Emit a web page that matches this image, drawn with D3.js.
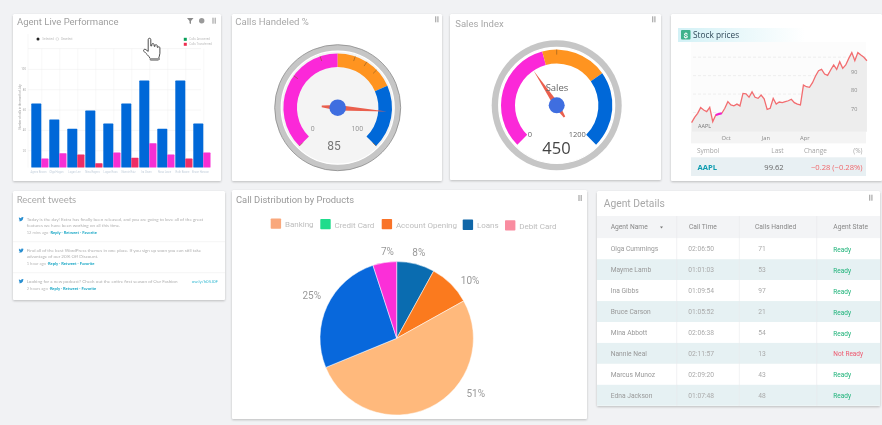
<!DOCTYPE html>
<html><head><meta charset="utf-8">
<script src="https://cdn.jsdelivr.net/npm/d3@7/dist/d3.min.js"></script>
<style>
html,body{margin:0;padding:0;background:#f1f2f4;overflow:hidden}
svg{display:block;filter:blur(.5px)}
text{font-family:Roboto,"Open Sans",sans-serif}
</style></head><body>
<svg id="c" width="882" height="425"></svg>
<script>
// ---- data ----
const agentsShort = ["Agnes Brown","Olga Hogan","Logan Lee","Nina Rogers","Logan Ross","Nannie Ruiz","Ira Owen","Rosa Lowe","Ruth Boone","Bruce Hanson"];
const callsOffered = [65.9,50.2,41,59,46.2,65.9,88.5,41,88.5,46.2];
const callsHandledBars = [11.8,17,15.7,7.2,17.7,12.5,26.9,15.7,11.8,17.7];
const handledBelow = [0,0,1,1,0,1,0,0,1,0];
const barTicks = [20,40,60,80,100];

const stockPrices = [64.2,67.1,69.3,72.4,71.1,70.2,72.5,64.8,68.4,68.9,69.3,72,75.6,73.8,73.3,74.3,73.3,80.1,79.8,78,80.9,78,77.4,79.2,77.1,71.4,72,77.4,74.3,75.4,75.1,75.6,76.1,76.9,75.1,74.3,73.8,84.6,83.7,83.4,85.9,89.5,92.4,93.1,90.6,89.9,92.8,95.5,93.1,97.3,93.7,95.5,99.1,102.2,97.8,102.2,100.9,99.7,97.8];
const stockHeader = ["Symbol","Last","Change","(%)"];
const stockRow = ["AAPL","99.62","−0.28 (−0.28%)"];
const stockMonths = ["Oct","Jan","Apr"];
const stockYTicks = [70,80,90,100];

const pieNames = ["Loans","Account Opening","Banking","Credit Card","Debit Card"];
const pieShares = [8,8.9,51.9,26.2,5];
const pieLabels = ["8%","10%","51%","25%","7%"];
const legendNames = ["Banking","Credit Card","Account Opening","Loans","Debit Card"];

const tableHead = ["Agent Name","Call Time","Calls Handled","Agent State"];
const tableNames = ["Olga Cummings","Mayme Lamb","Ina Gibbs","Bruce Carson","Mina Abbott","Nannie Neal","Marcus Munoz","Edna Jackson"];
const tableTimes = ["02:06:50","01:01:03","01:09:54","01:05:52","02:06:38","02:11:57","02:09:20","01:07:48"];
const tableCalls = [71,53,97,21,54,13,43,48];
const tableStates = ["Ready","Ready","Ready","Ready","Ready","Not Ready","Ready","Ready"];

const tweetLines = [
 ["Today is the day! Extra has finally been released, and you are going to love all of the great","features we have been working on all this time."],
 ["Find all of the best WordPress themes in one place. If you sign up soon you can still take","advantage of our 20% Off Discount."],
 ["Looking for a new podcast? Check out the entire first season of Our Fashion"]];
const tweetAges = ["12 mins ago","1 hour ago","2 hours ago"];

// ---- helpers ----
const svg = d3.select("#c");
const defs = svg.append("defs");
const sh = defs.append("filter").attr("id","sh").attr("x","-5%").attr("y","-5%").attr("width","110%").attr("height","112%");
sh.append("feDropShadow").attr("dx",0).attr("dy",1).attr("stdDeviation",1.2).attr("flood-color","#000").attr("flood-opacity",.22);
const gr = defs.append("linearGradient").attr("id","band");
gr.append("stop").attr("offset",0).attr("stop-color","#d3f1f6");
gr.append("stop").attr("offset",1).attr("stop-color","#ffffff");

function card(x,y,w,h){svg.append("rect").attr("x",x).attr("y",y).attr("width",w).attr("height",h).attr("fill","#fff").attr("rx",1.5).attr("filter","url(#sh)");}
function text(s,x,y,size,fill,o={}){
  const t=svg.append("text").attr("x",x).attr("y",y).attr("font-size",size).attr("fill",fill).text(s);
  if(o.anchor)t.attr("text-anchor",o.anchor);
  if(o.weight)t.attr("font-weight",o.weight);
  if(o.family)t.style("font-family",o.family);
  return t;
}
function pause(x,y){[-1.6,.6].forEach(d=>svg.append("rect").attr("x",x+d).attr("y",y-3).attr("width",1.2).attr("height",6).attr("fill","#a8a8a8"));}

card(13,14,208,167);card(232,14,210,167);card(450,14,211,166);card(671,14,211,167);
card(13,191,212,109);card(232,190,355,229);card(597,191,283,215);

// ---- bar chart ----
text("Agent Live Performance",17,25.2,9.5,"#a0a0a0");
svg.append("path").attr("d","M187 18h6.5l-2.5 3v3l-1.5-.8v-2.2z").attr("fill","#8b8b8b");
svg.append("circle").attr("cx",201.7).attr("cy",20.7).attr("r",2.7).attr("fill","#9a9a9a");
pause(214,20.7);

const bx = d3.scaleBand().domain(agentsShort).range([29.5,209.5]);
const by = d3.scaleLinear().domain([3,100]).range([167.5,68.9]);
const gb = svg.append("g");
gb.selectAll("line.v").data(agentsShort).join("line").attr("x1",d=>bx(d)+12.3).attr("x2",d=>bx(d)+12.3)
  .attr("y1",by(120)).attr("y2",by(3)).attr("stroke","#f0f0f0").attr("stroke-width",.5);
svg.append("line").attr("x1",28).attr("x2",201).attr("y1",by(120)).attr("y2",by(120)).attr("stroke","#ececec").attr("stroke-width",.5);
svg.append("line").attr("x1",28).attr("x2",28).attr("y1",34).attr("y2",167.5).attr("stroke","#ededed").attr("stroke-width",.5);
const ay = svg.append("g").attr("transform","translate(28,0)").call(d3.axisLeft(by).tickValues(barTicks).tickSize(-173).tickPadding(2));
ay.select(".domain").remove();
ay.selectAll("line").attr("stroke","#ececec").attr("stroke-width",.5);
ay.selectAll("text").attr("font-size",2.8).attr("fill","#aaa");
const ax = svg.append("g").attr("transform","translate(0,167.5)").call(d3.axisBottom(bx).tickSize(0).tickPadding(4));
ax.select(".domain").remove();
ax.selectAll("text").attr("font-size",2.7).attr("fill","#c3cfdb");
svg.append("g").selectAll("rect").data(callsOffered).join("rect")
  .attr("x",(d,i)=>bx(agentsShort[i])+1.8).attr("width",10).attr("y",d=>by(d)).attr("height",d=>by(3)-by(d)).attr("fill","#0068d8").attr("rx",.6);
svg.append("g").selectAll("rect").data(callsHandledBars).join("rect")
  .attr("x",(d,i)=>bx(agentsShort[i])+11.8).attr("width",7.2).attr("y",d=>by(d)).attr("height",d=>by(3)-by(d))
  .attr("fill",(d,i)=>handledBelow[i]?"#ee2d66":"#f72fd4").attr("rx",.6);
text("Number of calls in the month of July",0,0,2.8,"#999",{anchor:"middle"}).attr("transform","translate(21,107) rotate(-90)");
svg.append("circle").attr("cx",38).attr("cy",39).attr("r",1.5).attr("fill","#222");
text("Selected",42.3,40.1,3,"#c0c0c0");
svg.append("circle").attr("cx",57.3).attr("cy",39).attr("r",1.4).attr("fill","none").attr("stroke","#bbb").attr("stroke-width",.4);
text("Deselect",61,40.1,3,"#c0c0c0");
svg.append("rect").attr("x",183.8).attr("y",37.8).attr("width",3).attr("height",3).attr("fill","#0aa05a");
svg.append("rect").attr("x",183.8).attr("y",42.8).attr("width",3).attr("height",3).attr("fill","#ee2d50");
text("Calls Answered",189.3,40.4,3,"#c0c0c0");
text("Calls Transferred",189.3,45.4,3,"#c0c0c0");

// hand cursor
svg.append("path").attr("transform","translate(143,38)")
 .attr("d","M5.2 1.6c0-1.8 2.6-1.8 2.6 0v6.4l1-.2V6.6c0-1.4 2.2-1.4 2.3 0v1.6l.9.2V7.6c0-1.3 2.1-1.2 2.2.1v1.5l.7.3c0-1.2 1.9-1 2 .3v5.5c0 2.2-1 3.6-1.4 5.4v1.3H7.3v-1.4C5.6 17.6 3.5 16 .9 13.3c-1-1.2.4-2.7 1.9-1.7l2.4 1.8z")
 .attr("fill","#fff").attr("stroke","#3a3a3a").attr("stroke-width",.9).attr("stroke-linejoin","round");
svg.append("path").attr("transform","translate(143,38)").attr("d","M7.3 21h9.6").attr("stroke","#9a9a9a").attr("stroke-width",2);

// ---- gauges ----
const arcG = d3.arc();
function gauge(o){
  const g = svg.append("g").attr("transform",`translate(${o.cx},${o.cy})`);
  const a = d3.scaleLinear().domain([0,o.max]).range([-135*Math.PI/180,135*Math.PI/180]);
  g.append("circle").attr("r",o.r1).attr("fill",o.ring).attr("stroke",o.edge).attr("stroke-width",o.edge==="none"?0:.8);
  g.append("circle").attr("r",o.r2).attr("fill",o.face).attr("stroke","#fff").attr("stroke-width",1.2);
  o.bands.forEach(b=>g.append("path").attr("fill",b.c).attr("d",arcG({innerRadius:o.a0,outerRadius:o.a1,startAngle:a(b.from),endAngle:a(b.to)})));
  o.ticks.forEach(t=>{const th=a(t)-Math.PI/2;g.append("line").attr("x1",Math.cos(th)*(o.a1-5)).attr("y1",Math.sin(th)*(o.a1-5)).attr("x2",Math.cos(th)*o.a1).attr("y2",Math.sin(th)*o.a1).attr("stroke","#8a5a20").attr("stroke-width",.6);});
  const th=a(o.value), L=o.len, T=o.tail, W=o.hw, ux=Math.sin(th), uy=-Math.cos(th), px=-uy, py=ux;
  const pts=[[ux*L,uy*L],[px*W,py*W],[-ux*T+px*.9,-uy*T+py*.9],[-ux*T-px*.9,-uy*T-py*.9],[-px*W,-py*W]];
  g.append("path").attr("d",d3.line()(pts)+"Z").attr("fill","#ea5f4d");
  g.append("circle").attr("r",o.hub).attr("fill","#3f6ee0");
  return g;
}
text("Calls Handeled %",235.3,25.2,9.6,"#a8a8a8");pause(436.7,19.3);
const g1 = gauge({cx:337.7,cy:107.7,max:100,value:85,r1:63,r2:56.5,a0:40.7,a1:54.3,ring:"#c6c6c6",edge:"#8a8a8a",face:"#f4f4f4",len:49,tail:16,hw:2.8,hub:8.3,
  bands:[{from:0,to:50,c:"#fb28d8"},{from:50,to:74.5,c:"#ff9420"},{from:74.5,to:100,c:"#0068d8"}],ticks:[0,30,43,57,62,67,100]});
text("0",312.7,130.7,7,"#999",{anchor:"middle"});
text("100",357.3,130.7,7,"#999",{anchor:"middle"});
text("85",334,150,12,"#777",{anchor:"middle"});

text("Sales Index",455.3,27,9.5,"#a8a8a8");pause(653.7,19.3);
const g2 = gauge({cx:556.7,cy:105.3,max:1200,value:450,r1:65,r2:58,a0:41.7,a1:55.7,ring:"#c6c6c6",edge:"none",face:"#fff",len:41.5,tail:14,hw:2.8,hub:8,
  bands:[{from:0,to:533,c:"#fb28d8"},{from:533,to:844,c:"#ff9420"},{from:844,to:1200,c:"#0068d8"}],ticks:[600]});
text("Sales",557,91,9.5,"#666",{anchor:"middle",family:"'Open Sans'"});
text("0",530,137,7.5,"#666",{anchor:"middle",family:"'Open Sans'"});
text("1200",577.3,137,7.5,"#666",{anchor:"middle",family:"'Open Sans'"});
text("450",556.5,154,16.5,"#444",{anchor:"middle",family:"'Open Sans'"});

// ---- stock ----
svg.append("rect").attr("x",678).attr("y",28).attr("width",127).attr("height",14).attr("fill","url(#band)");
svg.append("rect").attr("x",681).attr("y",30).attr("width",9.5).attr("height",9.5).attr("rx",1).attr("fill","#3fb28c");
text("$",685.7,38,8,"#fff",{anchor:"middle",weight:700});
text("Stock prices",693,38,8.3,"#2f4858",{family:"'Open Sans'"});
const stockStart = new Date(2014,6,14);
const sDates = stockPrices.map((d,i)=>d3.timeDay.offset(stockStart,7*i));
const tx = d3.scaleTime().domain([new Date(2014,9,1),new Date(2015,3,1)]).range([725.7,804.3]);
const ty = d3.scaleLinear().domain([70,100]).range([112,56.7]);
const sl = 691, sr = 866, st = 42, sb = 131.7;
svg.append("rect").attr("x",sl).attr("y",st).attr("width",sr-sl).attr("height",101.3).attr("fill","#fcfcfc");
svg.append("rect").attr("x",sl).attr("y",sb).attr("width",sr-sl).attr("height",11.6).attr("fill","#f4f4f4");
const yS = svg.append("g").attr("transform",`translate(${sr},0)`).call(d3.axisLeft(ty).tickValues(stockYTicks).tickSize(175));
yS.select(".domain").remove();
yS.selectAll("line").attr("stroke","#e6e6e6").attr("stroke-width",.6).attr("stroke-dasharray","3 2");
yS.selectAll("text").remove();
svg.append("path").datum(stockPrices).attr("fill","#ededed")
  .attr("d",d3.area().x((d,i)=>tx(sDates[i])).y0(sb).y1(d=>ty(d)));
svg.append("path").datum(stockPrices).attr("fill","none").attr("stroke","#f26d70").attr("stroke-width",1.3)
  .attr("d",d3.line().x((d,i)=>tx(sDates[i])).y(d=>ty(d)));
const hiIdx=[8,9,10];
svg.append("path").datum(hiIdx).attr("fill","none").attr("stroke","#f01fcf").attr("stroke-width",2.2)
  .attr("d",d3.line().x(i=>tx(sDates[i])).y(i=>ty(stockPrices[i])));
stockYTicks.slice(0,3).forEach(v=>text(v,851,ty(v)-1.3,5.5,"#888",{family:"'Open Sans'"}));
const xS = svg.append("g").attr("transform",`translate(0,${sb})`).call(d3.axisBottom(tx).tickValues([new Date(2014,9,1),new Date(2015,0,1),new Date(2015,3,1)]).tickFormat((d,i)=>stockMonths[i]).tickSize(0).tickPadding(4));
xS.select(".domain").remove();
xS.selectAll("text").attr("font-size",5.8).attr("fill","#888").style("font-family","'Open Sans'");
text("AAPL",698,128,5.5,"#777",{family:"'Open Sans'"});
svg.append("rect").attr("x",691).attr("y",157.3).attr("width",175).attr("height",18.7).attr("fill","#e8f0f3");
text(stockHeader[0],697,153,6.5,"#a5a5a5",{family:"'Open Sans'"});
text(stockHeader[1],783.7,153,6.5,"#a5a5a5",{anchor:"end",family:"'Open Sans'"});
text(stockHeader[2],804,153,6.5,"#a5a5a5",{family:"'Open Sans'"});
text(stockHeader[3],862.5,153,6.5,"#a5a5a5",{anchor:"end",family:"'Open Sans'"});
text(stockRow[0],697.5,170,7.6,"#0e9cb0",{weight:700,family:"'Open Sans'"});
text(stockRow[1],783.7,170,7.6,"#666",{anchor:"end",family:"'Open Sans'"});
text(stockRow[2],862.5,170,7.6,"#f0686c",{anchor:"end",family:"'Open Sans'"});

// ---- tweets ----
text("Recent tweets",16.7,203,9.5,"#a9a9a9",{family:"Lato"});
const birdPath="M9.5 2.2c-.35.15-.7.25-1.1.3.4-.24.7-.6.84-1.05-.37.22-.78.38-1.22.47A1.9 1.9 0 0 0 4.8 3.66 5.4 5.4 0 0 1 .9 1.68a1.9 1.9 0 0 0 .59 2.54c-.3 0-.6-.1-.86-.24 0 .93.66 1.7 1.53 1.88-.28.08-.57.09-.86.03.25.77.96 1.3 1.78 1.32A3.8 3.8 0 0 1 .27 7.99a5.4 5.4 0 0 0 8.3-4.8c.37-.27.7-.6.93-.99z";
const tweetY=[[219.3,225.3,232.7],[250.7,256.7,264],[281.3,289]];
[241.7,272.7].forEach(y=>svg.append("line").attr("x1",13).attr("x2",225).attr("y1",y).attr("y2",y).attr("stroke","#efefef").attr("stroke-width",.6));
tweetLines.forEach((lines,i)=>{
  const ys=tweetY[i];
  svg.append("path").attr("d",birdPath).attr("fill","#2a8fd0").attr("transform",`translate(18.5,${ys[0]-3}) scale(.55)`);
  lines.forEach((l,j)=>{text(l,26.7,ys[j]+1.4,4.55,"#b0b0b0",{family:"Lato"});});
  const ageY=ys[ys.length-1]+1.4;
  const age=text(tweetAges[i]+" · ",26.7,ageY,4.1,"#b8b8b8",{family:"Lato"});
  const ax0=26.7+age.node().getComputedTextLength();
  text("Reply · Retweet · Favorite",ax0,ageY,4.1,"#1ba8c6",{family:"Lato",weight:700});
});
text("ow.ly/h05J0F",191.7,282.7,4.4,"#3bbcd4",{family:"Lato"});

// ---- pie ----
text("Call Distribution by Products",236,202.7,9.4,"#999");pause(580,198);
const legendColors=["#f9a87c","#1fdc8c","#f97328","#0f66a8","#f98ca0"];
const legendX=[270.7,320.3,381.7,462.7,505];
const legendDy=[0,.5,.5,1.2,1.8];
legendNames.forEach((n,i)=>{
  svg.append("rect").attr("x",legendX[i]).attr("y",218.4+legendDy[i]).attr("width",10.4).attr("height",10.4).attr("rx",.8).attr("fill",legendColors[i]);
  text(n,legendX[i]+14.2,227.2+legendDy[i],8,"#bdbdbd");
});
const pie=d3.pie().value(d=>d).sort(null);
const pieArcs=pie(pieShares);
const arcP=d3.arc().innerRadius(0).outerRadius(76.7);
const pieColors=["#0a6cb0","#fb7a1e","#ffb97c","#0868dc","#fb2fd8"];
const gp=svg.append("g").attr("transform","translate(396.7,338.3)");
gp.selectAll("path").data(pieArcs).join("path").attr("d",arcP).attr("fill",(d,i)=>pieColors[i]).attr("stroke","#fff").attr("stroke-width",.5);
const labelAngleShift=[0,.12,-.51,.03,.05], labelR=[89,93.5,96.5,95,87];
pieArcs.forEach((d,i)=>{
  const m=(d.startAngle+d.endAngle)/2+labelAngleShift[i];
  gp.append("text").attr("x",Math.sin(m)*labelR[i]).attr("y",-Math.cos(m)*labelR[i]+3.6).attr("text-anchor","middle")
    .attr("font-size",10).attr("fill","#999").text(pieLabels[i]);
});

// ---- table ----
text("Agent Details",603.7,206.5,10.3,"#a8a8a8");pause(870.7,197.7);
const rowsY=d3.scaleBand().domain(d3.range(tableNames.length)).range([238.3,405.7]);
svg.append("rect").attr("x",597).attr("y",216).attr("width",283).attr("height",22.3).attr("fill","#f3f4f6");
svg.selectAll("rect.row").data(tableNames).join("rect").attr("class","row").attr("x",597).attr("width",283)
  .attr("y",(d,i)=>rowsY(i)).attr("height",rowsY.bandwidth()).attr("fill",(d,i)=>i%2?"#e6f1f3":"#fff");
const colX=[676.7,739.3,816.7];
colX.forEach(x=>svg.append("line").attr("x1",x).attr("x2",x).attr("y1",216).attr("y2",405.7).attr("stroke","#e8eaec").attr("stroke-width",.6));
const headX=[610.7,689,755,833.3];
tableHead.forEach((h,i)=>text(h,headX[i],229,6.7,"#888"));
svg.append("path").attr("d","M660 226.4h3l-1.5 2z").attr("fill","#777");
const cy=i=>rowsY(i)+rowsY.bandwidth()/2+2.3;
tableNames.forEach((n,i)=>{
  text(n,610.7,cy(i),6.7,"#999");
  text(tableTimes[i],688.3,cy(i),6.7,"#aaa");
  text(tableCalls[i],758.3,cy(i),6.7,"#aaa");
  text(tableStates[i],833.3,cy(i)+.8,6.5,tableStates[i]==="Ready"?"#1fb37a":"#ee5a70");
});
</script>
</body></html>
